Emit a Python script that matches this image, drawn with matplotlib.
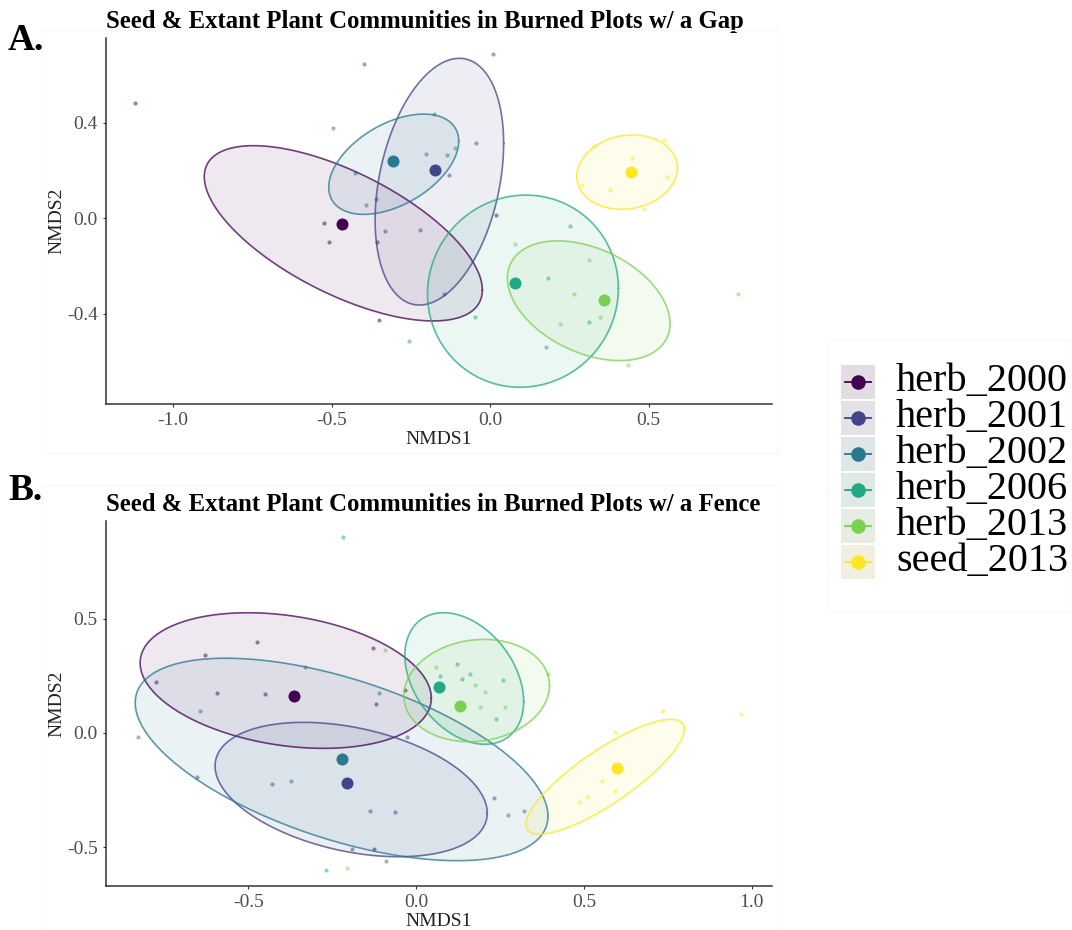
import numpy as np
import matplotlib.pyplot as plt
from matplotlib.patches import Rectangle

plt.rcParams['font.family'] = ['Liberation Serif', 'DejaVu Serif']
plt.rcParams['axes.unicode_minus'] = False

groups = ['herb_2000', 'herb_2001', 'herb_2002', 'herb_2006', 'herb_2013', 'seed_2013']
colours = ['#440154', '#414487', '#2A788E', '#22A884', '#7AD151', '#FDE725']

# --- burned plots with a gap: site scores (NMDS1, NMDS2, group index)
gap_x = [-1.120, -0.523, -0.507, -0.356, 0.018, -0.350,
         -0.397, 0.008, -0.043, -0.130, -0.360, -0.331, -0.221, -0.144,
         -0.495, -0.178, -0.201, -0.136, -0.426, -0.393,
         -0.111, -0.255, -0.049, 0.252, 0.181, 0.312, 0.175,
         0.079, 0.311, 0.265, 0.347, 0.221, 0.436, 0.782,
         0.329, 0.549, 0.446, 0.559, 0.289, 0.379, 0.484]
gap_y = [0.484, -0.020, -0.100, -0.100, 0.014, -0.425,
         0.644, 0.686, 0.316, 0.180, 0.079, -0.054, -0.048, -0.315,
         0.379, 0.436, 0.270, 0.264, 0.188, 0.054,
         0.295, -0.513, -0.414, -0.031, -0.250, -0.434, -0.540,
         -0.106, -0.174, -0.317, -0.414, -0.441, -0.614, -0.318,
         0.304, 0.329, 0.252, 0.172, 0.139, 0.118, 0.040]
gap_g = [0] * 6 + [1] * 8 + [2] * 6 + [3] * 7 + [4] * 7 + [5] * 7

gap_cen_x = [-0.467, -0.174, -0.306, 0.080, 0.358, 0.443]
gap_cen_y = [-0.025, 0.201, 0.238, -0.271, -0.342, 0.192]

# ellipse centre, half extents along x / y, correlation
gap_ell_x = [-0.463, -0.160, -0.304, 0.1035, 0.311, 0.432]
gap_ell_y = [-0.063, 0.153, 0.226, -0.305, -0.345, 0.193]
gap_ell_sx = [0.4385, 0.2027, 0.205, 0.301, 0.2566, 0.1587]
gap_ell_sy = [0.3667, 0.516, 0.2098, 0.402, 0.2504, 0.1554]
gap_ell_r = [-0.646, 0.31, 0.46, 0.03, -0.38, 0.11]

# --- burned plots with a fence
fence_x = [-0.476, -0.631, -0.775, -0.594, -0.451, -0.129, -0.119, -0.033, -0.126,
           -0.652, -0.429, -0.191, -0.028, -0.138, -0.064, 0.231,
           -0.332, -0.643, -0.828, -0.373, -0.110, -0.089, 0.272, 0.320,
           -0.218, -0.268, 0.120, 0.071, 0.135, 0.161, 0.257, 0.237,
           -0.206, -0.092, 0.060, 0.174, 0.205, 0.191, 0.264, 0.394,
           0.734, 0.969, 0.592, 0.552, 0.592, 0.510, 0.485]
fence_y = [0.399, 0.342, 0.222, 0.175, 0.170, 0.374, 0.126, 0.189, -0.509,
           -0.193, -0.225, -0.510, -0.016, -0.341, -0.346, -0.287,
           0.291, 0.096, -0.019, -0.211, 0.174, -0.560, -0.358, -0.344,
           0.860, -0.601, 0.304, 0.250, 0.238, 0.257, 0.232, 0.060,
           -0.591, 0.364, 0.288, 0.212, 0.178, 0.115, 0.113, 0.259,
           0.096, 0.085, 0.006, -0.209, -0.254, -0.282, -0.304]
fence_g = [0] * 9 + [1] * 7 + [2] * 8 + [3] * 8 + [4] * 8 + [5] * 7

fence_cen_x = [-0.365, -0.205, -0.220, 0.068, 0.131, 0.597]
fence_cen_y = [0.164, -0.218, -0.115, 0.200, 0.118, -0.152]

fence_ell_x = [-0.389, -0.194, -0.2225, 0.143, 0.180, 0.563]
fence_ell_y = [0.230, -0.248, -0.116, 0.239, 0.186, -0.192]
fence_ell_sx = [0.4338, 0.4055, 0.615, 0.177, 0.217, 0.236]
fence_ell_sy = [0.2974, 0.2947, 0.444, 0.2886, 0.2245, 0.252]
fence_ell_r = [-0.26, -0.35, -0.56, -0.35, 0.10, 0.83]


def ellipse_path(cx, cy, sx, sy, r, n=200):
    cov = np.array([[sx * sx, r * sx * sy], [r * sx * sy, sy * sy]])
    L = np.linalg.cholesky(cov)
    t = np.linspace(0, 2 * np.pi, n)
    pts = L @ np.vstack([np.cos(t), np.sin(t)])
    return cx + pts[0], cy + pts[1]


def nmds_panel(ax, xs, ys, gs, cen_x, cen_y, ex, ey, esx, esy, er,
               title, xlim, ylim, xticks, yticks):
    gs = np.array(gs)
    xs = np.array(xs)
    ys = np.array(ys)
    for i, col in enumerate(colours):
        m = gs == i
        ax.scatter(xs[m], ys[m], s=9, color=col, alpha=0.5, lw=0, zorder=2)
    for i, col in enumerate(colours):
        px, py = ellipse_path(ex[i], ey[i], esx[i], esy[i], er[i])
        ax.fill(px, py, color=col, alpha=0.09, lw=0, zorder=3)
        ax.plot(px, py, color=col, alpha=0.75, lw=1.2, zorder=4)
    for i, col in enumerate(colours):
        ax.scatter(cen_x[i], cen_y[i], s=75, color=col, lw=0, zorder=5)

    ax.set_xlim(*xlim)
    ax.set_ylim(*ylim)
    ax.set_xticks(xticks)
    ax.set_yticks(yticks)
    ax.set_xticklabels(['%.1f' % v for v in xticks])
    ax.set_yticklabels(['%.1f' % v for v in yticks])
    for s in ['top', 'right']:
        ax.spines[s].set_visible(False)
    for s in ['left', 'bottom']:
        ax.spines[s].set_color('#333333')
        ax.spines[s].set_linewidth(1.1)
    ax.tick_params(length=2.5, width=0.8, color='#333333', labelcolor='#4d4d4d',
                   labelsize=14, pad=3)
    ax.set_xlabel('NMDS1', fontsize=14, color='#222222', labelpad=2)
    ax.set_ylabel('NMDS2', fontsize=14, color='#222222', labelpad=1)
    ax.set_title(title, loc='left', fontsize=17.8, fontweight='bold', pad=7)


fig = plt.figure(figsize=(10.72, 9.30), dpi=100)

# faint frames around each panel
for (l, t, r, b) in [(42, 30, 778, 453), (42, 485, 778, 930), (828, 340, 1072, 612)]:
    fig.patches.append(Rectangle((l / 1072, 1 - b / 930), (r - l) / 1072, (b - t) / 930,
                                 transform=fig.transFigure, fill=False,
                                 edgecolor='#f8f8f8', lw=1))

ax1 = fig.add_axes([105.5 / 1072, 1 - 404 / 930, (772 - 105.5) / 1072, (404 - 38) / 930])
nmds_panel(ax1, gap_x, gap_y, gap_g, gap_cen_x, gap_cen_y,
           gap_ell_x, gap_ell_y, gap_ell_sx, gap_ell_sy, gap_ell_r,
           'Seed & Extant Plant Communities in Burned Plots w/ a Gap',
           (-1.213, 0.889), (-0.777, 0.754), [-1.0, -0.5, 0.0, 0.5], [-0.4, 0.0, 0.4])

ax2 = fig.add_axes([105.5 / 1072, 1 - 886 / 930, (772 - 105.5) / 1072, (886 - 520.7) / 930])
nmds_panel(ax2, fence_x, fence_y, fence_g, fence_cen_x, fence_cen_y,
           fence_ell_x, fence_ell_y, fence_ell_sx, fence_ell_sy, fence_ell_r,
           'Seed & Extant Plant Communities in Burned Plots w/ a Fence',
           (-0.926, 1.060), (-0.671, 0.931), [-0.5, 0.0, 0.5, 1.0], [-0.5, 0.0, 0.5])

fig.text(8 / 1072, 1 - 40 / 930, 'A.', fontsize=27, fontweight='bold', va='center')
fig.text(8 / 1072, 1 - 490 / 930, 'B.', fontsize=27, fontweight='bold', va='center')

# legend drawn by hand: tinted key boxes with point + line glyphs
lax = fig.add_axes([838 / 1072, 1 - 580 / 930, (1072 - 838) / 1072, (580 - 364) / 930])
lax.set_xlim(0, 234)
lax.set_ylim(len(groups), 0)
lax.axis('off')
for i, (g, col) in enumerate(zip(groups, colours)):
    lax.add_patch(Rectangle((3, i + 0.03), 34, 0.94, facecolor='#f0f0f0', edgecolor='none'))
    lax.add_patch(Rectangle((3, i + 0.03), 34, 0.94, facecolor=col, alpha=0.08, edgecolor='none'))
    lax.plot([7, 33], [i + 0.5, i + 0.5], color=col, lw=1.3)
    lax.scatter([20], [i + 0.5], s=110, color=col, lw=0, zorder=3)
    lax.text(58, i + 0.5, g, fontsize=29, va='center', ha='left')

fig.savefig('out.png', dpi=100)
